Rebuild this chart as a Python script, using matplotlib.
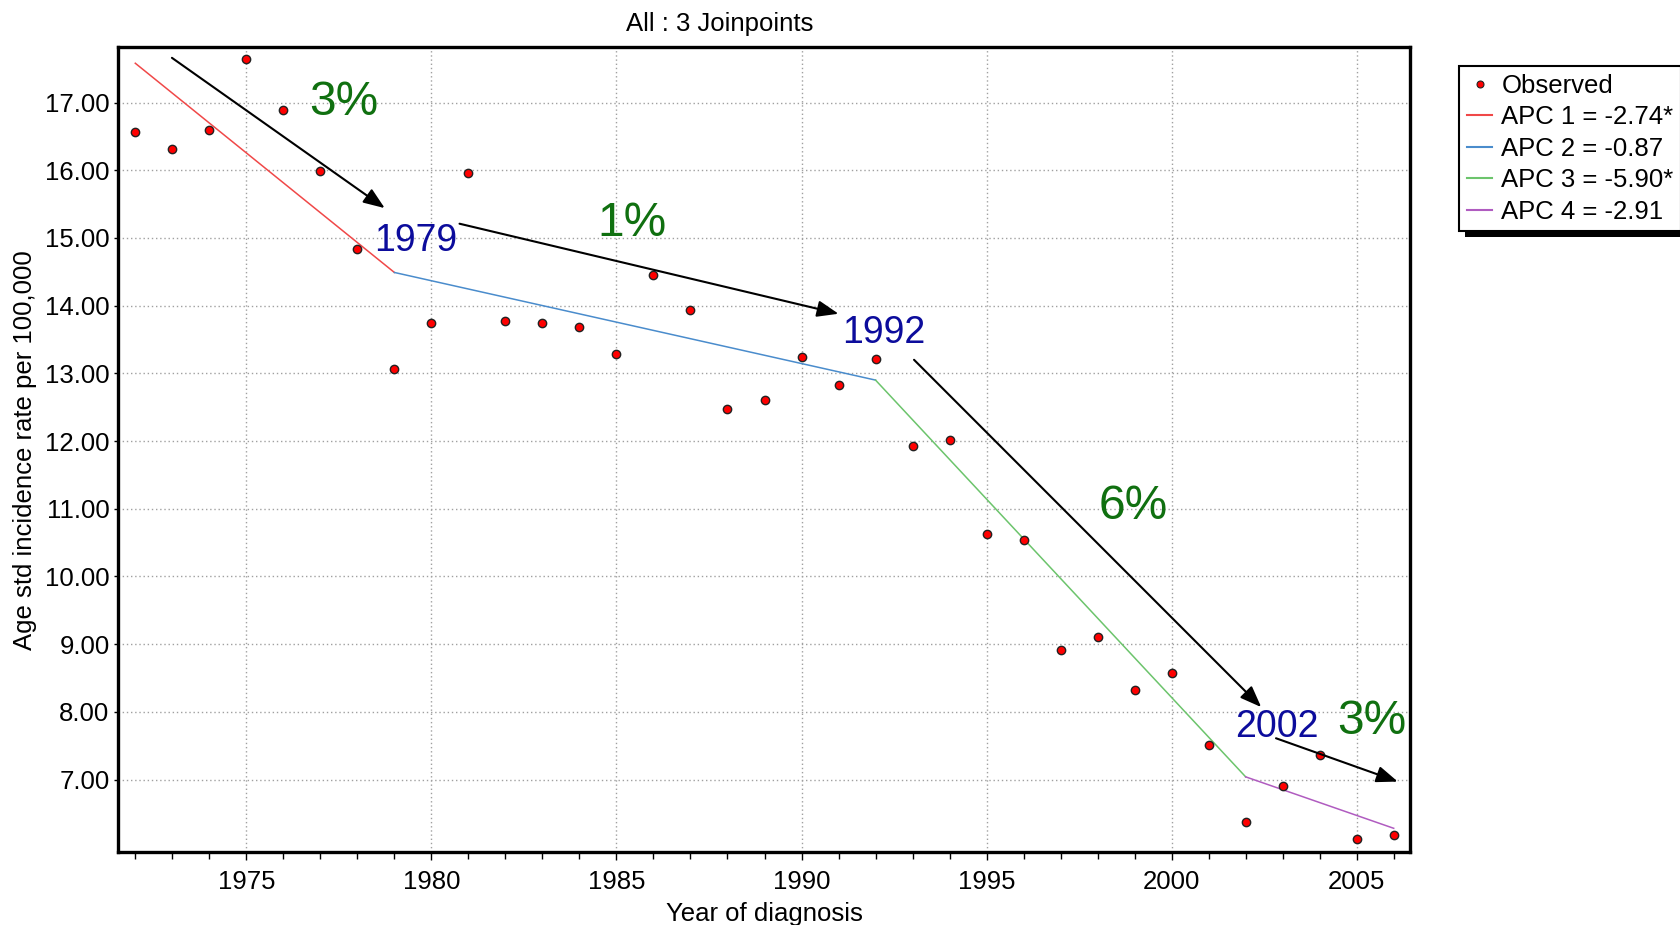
import matplotlib
matplotlib.use('Agg')
import matplotlib.pyplot as plt
from matplotlib.lines import Line2D
from matplotlib.patches import Rectangle
from matplotlib.transforms import IdentityTransform
from matplotlib.ticker import FormatStrFormatter, MultipleLocator

plt.rcParams['font.family'] = ['Liberation Sans', 'DejaVu Sans']

# ---------------- data ----------------
years = list(range(1972, 2007))
observed = [16.57, 16.31, 16.60, 17.65, 16.89, 15.99, 14.83, 13.06, 13.75, 15.96,
            13.78, 13.75, 13.69, 13.29, 14.45, 13.93, 12.48, 12.60, 13.24, 12.83,
            13.21, 11.93, 12.02, 10.63, 10.54, 8.92, 9.10, 8.32, 8.57, 7.51,
            6.38, 6.90, 7.37, 6.12, 6.18]

joinpoint_years = [1972, 1979, 1992, 2002, 2006]
fitted_at_joinpoints = [17.58, 14.49, 12.90, 7.04, 6.28]
apc_labels = ['APC 1 = -2.74*', 'APC 2 = -0.87', 'APC 3 = -5.90*', 'APC 4 = -2.91']
segment_colors = ['#f04848', '#4a8ccc', '#6cc46c', '#b05cc0']

x_ticks = [1975, 1980, 1985, 1990, 1995, 2000, 2005]
y_ticks = [7, 8, 9, 10, 11, 12, 13, 14, 15, 16, 17]

joinpoint_labels = ['1979', '1992', '2002']
pct_labels = ['3%', '1%', '6%', '3%']

# ---------------- figure ----------------
W, H = 1680, 925
fig = plt.figure(figsize=(W / 100, H / 100), dpi=100)
ax = fig.add_axes([117.9 / W, (H - 852) / H, (1410 - 117.9) / W, (852 - 47) / H])

ax.set_xlim(1971.53, 2006.44)
ax.set_ylim(5.93, 17.82)

# fitted segments
for i in range(len(apc_labels)):
    ax.plot(joinpoint_years[i:i + 2], fitted_at_joinpoints[i:i + 2],
            color=segment_colors[i], lw=1.1, zorder=3)

# observed points
ax.plot(years, observed, linestyle='none', marker='o', markersize=6,
        markerfacecolor='#ff0000', markeredgecolor='#222222', markeredgewidth=1.0,
        zorder=4)

# grid, ticks, spines
ax.set_xticks(x_ticks)
ax.xaxis.set_minor_locator(MultipleLocator(1))
ax.set_yticks(y_ticks)
ax.yaxis.set_major_formatter(FormatStrFormatter('%.2f'))
ax.grid(True, which='major', color='#a0a0a0', linestyle=(0, (1, 2)), linewidth=1.0)
ax.set_axisbelow(True)
ax.tick_params(axis='x', which='major', length=6, width=1, pad=7, labelsize=18.5)
ax.tick_params(axis='x', which='minor', length=5, width=1)
ax.tick_params(axis='y', which='major', length=3, width=1, pad=3, labelsize=18.5)
for s in ax.spines.values():
    s.set_linewidth(2.4)
    s.set_color('black')

# arrows
arrow_starts = [(1972.99, 17.66), (1980.76, 15.21), (1993.04, 13.20), (2002.82, 7.61)]
arrow_ends = [(1978.74, 15.44), (1991.00, 13.88), (2002.42, 8.07), (2006.11, 6.97)]
for st, en in zip(arrow_starts, arrow_ends):
    ax.annotate('', xy=en, xytext=st,
                arrowprops=dict(arrowstyle='-|>,head_length=0.65,head_width=0.25',
                                color='black', lw=1.5, shrinkA=0, shrinkB=0,
                                mutation_scale=20),
                annotation_clip=False, zorder=5)

# annotation texts
jp_pos = [(1979.57, 14.95), (1992.23, 13.59), (2002.84, 7.78)]
for lab, (x, y) in zip(joinpoint_labels, jp_pos):
    ax.text(x, y, lab, color='#0c0c9c', fontsize=27, ha='center', va='center', zorder=6)
pct_pos = [(1977.63, 17.0), (1985.41, 15.22), (1998.97, 11.03), (2005.41, 7.86)]
for lab, (x, y) in zip(pct_labels, pct_pos):
    ax.text(x, y, lab, color='#107010', fontsize=34.5, ha='center', va='center',
            zorder=6, clip_on=False)

# titles / labels
fig.text(720 / W, 1 - 24.5 / H, 'All : 3 Joinpoints', ha='center', va='center', fontsize=18.5)
fig.text(764 / W, 1 - 914 / H, 'Year of diagnosis', ha='center', va='center', fontsize=18.5)
fig.text(25 / W, 1 - 450 / H, 'Age std incidence rate per 100,000', ha='center',
         va='center', rotation=90, fontsize=18.5)

# legend
handles = [Line2D([], [], linestyle='none', marker='o', markersize=5,
                  markerfacecolor='#ff0000', markeredgecolor='#222222', markeredgewidth=0.8)]
handles += [Line2D([], [], color=c, lw=1.5) for c in segment_colors]
labels = ['Observed'] + apc_labels
leg = fig.legend(handles, labels, loc='upper left',
                 bbox_to_anchor=(1459 / W, 1 - 66 / H), bbox_transform=fig.transFigure,
                 frameon=True, fancybox=False, edgecolor='black', framealpha=1,
                 fontsize=18.5, handlelength=1.0, handletextpad=0.35,
                 borderpad=0.3, labelspacing=0.29, borderaxespad=0)
leg.get_frame().set_linewidth(1.5)
leg.set_zorder(10)

fig.canvas.draw()
bb = leg.get_window_extent()
shadow = Rectangle((bb.x0 + 6, bb.y0 - 6), bb.width, bb.height, transform=IdentityTransform(),
                   facecolor='black', edgecolor='none', zorder=9)
fig.add_artist(shadow)

fig.savefig('out.png', dpi=100)
